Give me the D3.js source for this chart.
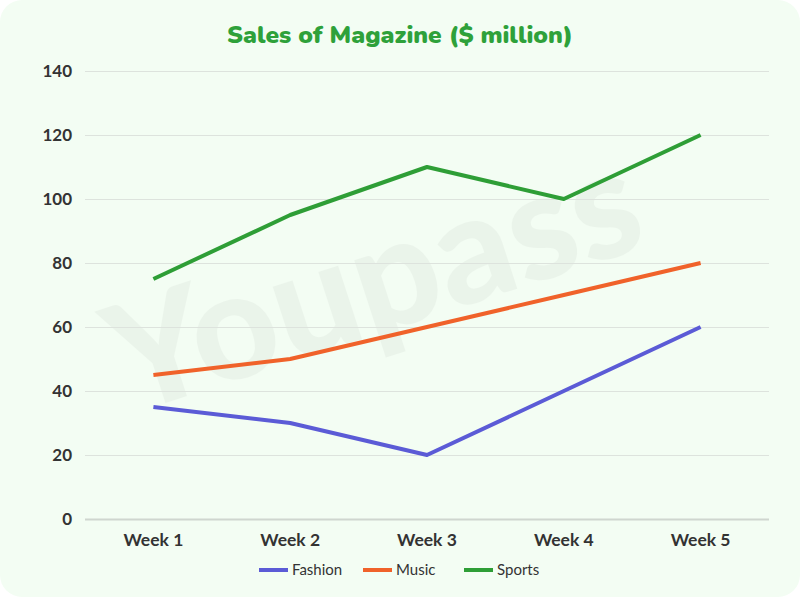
<!DOCTYPE html>
<html><head><meta charset="utf-8">
<script src="https://cdn.jsdelivr.net/npm/d3@7"></script>
<style>body{margin:0;background:#fff}svg{display:block}</style>
</head><body>
<svg id="c" width="800" height="597"></svg>
<script>
const categories = ["Week 1","Week 2","Week 3","Week 4","Week 5"];
const fashion = [35,30,20,40,60];
const music = [45,50,60,70,80];
const sports = [75,95,110,100,120];
const yTicks = [0,20,40,60,80,100,120,140];
const seriesNames = ["Fashion","Music","Sports"];
const seriesColors = ["#5b5bd6","#f0622a","#2e9e36"];
const series = [fashion, music, sports];

const svg = d3.select("#c");
svg.append("rect").attr("x",0).attr("y",0).attr("width",800).attr("height",597).attr("rx",22).attr("fill","#f3fdf3");

// watermark
svg.append("text").attr("x",390).attr("y",330).attr("transform","rotate(-18,390,330)")
  .attr("text-anchor","middle").attr("font-family","Lato, sans-serif").attr("font-weight",900)
  .attr("font-size",150).attr("fill","#000").attr("opacity",0.03).text("Youpass");

const x = d3.scaleBand().domain(categories).range([85,769]);
const y = d3.scaleLinear().domain([0,140]).range([519,71]);

svg.append("text").attr("x",400).attr("y",43).attr("text-anchor","middle")
  .attr("font-family","Nunito, Lato, sans-serif").attr("font-weight",900).attr("font-size",24.5)
  .attr("fill","#2ea13a").text("Sales of Magazine ($ million)");

const gy = svg.append("g").attr("transform","translate(85,0)")
  .call(d3.axisLeft(y).tickValues(yTicks).tickSize(-684).tickPadding(13));
gy.select(".domain").remove();
gy.selectAll(".tick line").attr("stroke","#dde3dd").attr("stroke-width",1.2);
gy.selectAll(".tick text").attr("font-family","Lato, sans-serif").attr("font-weight",700)
  .attr("font-size",17).attr("fill","#333");
gy.select(".tick line").attr("stroke","#cfd6cf").attr("stroke-width",2);

const gx = svg.append("g").attr("transform","translate(0,519)")
  .call(d3.axisBottom(x).tickSize(0).tickPadding(15));
gx.select(".domain").remove();
gx.selectAll(".tick text").attr("font-family","Lato, sans-serif").attr("font-weight",700)
  .attr("font-size",17.5).attr("fill","#333");

const line = d3.line().x((d,i)=>x(categories[i])+x.bandwidth()/2).y(d=>y(d));
series.forEach((s,i)=>{
  svg.append("path").datum(s).attr("d",line).attr("fill","none")
    .attr("stroke",seriesColors[i]).attr("stroke-width",4).attr("stroke-linejoin","round");
});

const lx = [259,363,464];
const leg = svg.append("g");
seriesNames.forEach((n,i)=>{
  leg.append("line").attr("x1",lx[i]).attr("x2",lx[i]+29).attr("y1",570).attr("y2",570)
    .attr("stroke",seriesColors[i]).attr("stroke-width",4);
  leg.append("text").attr("x",lx[i]+33).attr("y",575).attr("font-family","Lato, sans-serif")
    .attr("font-size",15).attr("fill","#333").text(n);
});
</script>
</body></html>
